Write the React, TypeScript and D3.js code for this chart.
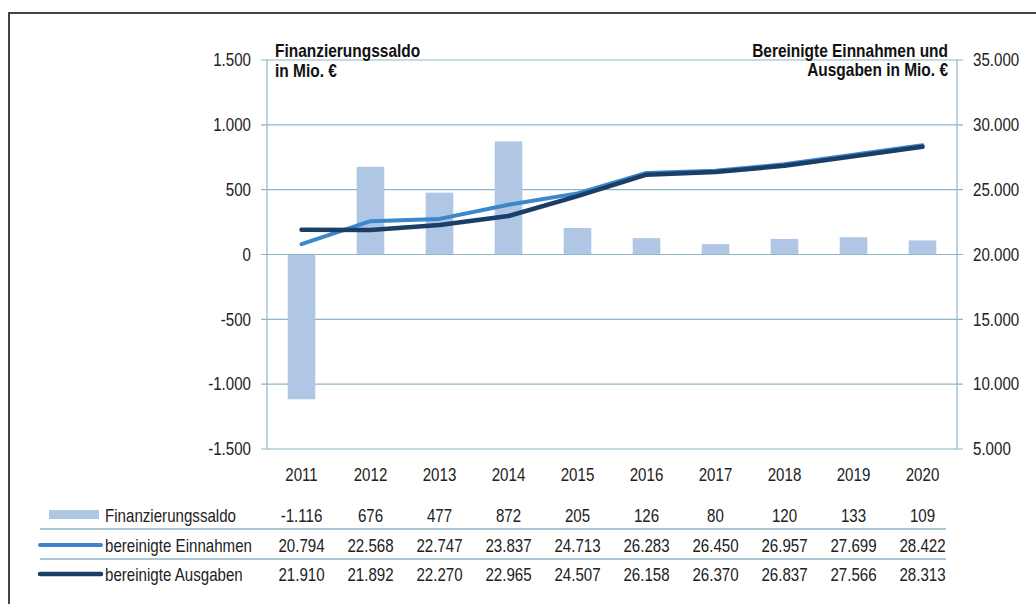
import React from 'react';
import * as d3 from 'd3';

const years = ['2011', '2012', '2013', '2014', '2015', '2016', '2017', '2018', '2019', '2020'];
const saldo = [-1116, 676, 477, 872, 205, 126, 80, 120, 133, 109];
const einnahmen = [20794, 22568, 22747, 23837, 24713, 26283, 26450, 26957, 27699, 28422];
const ausgaben = [21910, 21892, 22270, 22965, 24507, 26158, 26370, 26837, 27566, 28313];
const leftTicks = [-1500, -1000, -500, 0, 500, 1000, 1500];
const rightTicks = [5000, 10000, 15000, 20000, 25000, 30000, 35000];
const seriesNames = ['Finanzierungssaldo', 'bereinigte Einnahmen', 'bereinigte Ausgaben'];
const leftTitle = ['Finanzierungssaldo', 'in Mio. €'];
const rightTitle = ['Bereinigte Einnahmen und', 'Ausgaben in Mio. €'];

const FONT = "'Liberation Sans', Arial, sans-serif";
const TEXT = '#222';
const GRID = '#8fb4c8';
const BAR = '#afc7e4';
const C_EIN = '#3c87cb';
const C_AUS = '#1a3e66';

const de = d3.formatLocale({ decimal: ',', thousands: '.', grouping: [3], currency: ['', '€'], minus: '-' } as any);
const fmt = de.format(',d');

type TProps = { x: number; y: number; anchor?: string; bold?: boolean; dy?: string; fill?: string; size?: number; children: React.ReactNode };
function NText({ x, y, anchor = 'start', bold = false, dy, fill = TEXT, size = 18, children }: TProps) {
  const sx = bold ? 0.86 : 0.84;
  return (
    <text
      transform={`translate(${x},${y}) scale(${sx},1)`}
      textAnchor={anchor}
      dy={dy}
      fontSize={size}
      fontWeight={bold ? 'bold' : 'normal'}
      fill={fill}
    >
      {children}
    </text>
  );
}

export default function App() {
  const left = 267, right = 957, top = 60, bottom = 449;
  const x = d3.scaleBand<string>().domain(years).range([left, right]).paddingInner(0.6).paddingOuter(0.3);
  const yL = d3.scaleLinear().domain([-1500, 1500]).range([bottom, top]);
  const yR = d3.scaleLinear().domain([5000, 35000]).range([bottom, top]);
  const cx = (i: number) => (x(years[i]) as number) + x.bandwidth() / 2;
  const line = d3.line<number>().x((_, i) => cx(i)).y((d) => yR(d));

  const rowY = [522, 552, 581];
  const sepY = [529, 559];
  const rows = [saldo, einnahmen, ausgaben];

  return (
    <svg width={1036} height={604} style={{ position: 'absolute', left: 0, top: 0, background: '#fff' }} fontFamily={FONT}>
      {/* frame */}
      <line x1={8} x2={1036} y1={13} y2={13} stroke="#444" strokeWidth={2} />
      <line x1={9} x2={9} y1={12} y2={604} stroke="#444" strokeWidth={2} />

      {/* gridlines */}
      {leftTicks.map((t) => (
        <line key={t} x1={left - 6} x2={right + 6} y1={yL(t)} y2={yL(t)} stroke={GRID} strokeWidth={1.2} />
      ))}

      {/* bars */}
      {saldo.map((v, i) => (
        <rect key={i} x={x(years[i])} width={x.bandwidth()} y={Math.min(yL(v), yL(0))} height={Math.abs(yL(v) - yL(0))} fill={BAR} />
      ))}

      {/* axis lines */}
      <line x1={left} x2={left} y1={top} y2={bottom} stroke={GRID} strokeWidth={1.2} />
      <line x1={right} x2={right} y1={top} y2={bottom} stroke={GRID} strokeWidth={1.2} />
      <line x1={left - 6} x2={right + 6} y1={yL(0)} y2={yL(0)} stroke={GRID} strokeWidth={1.2} />

      {/* lines */}
      <path d={line(einnahmen) || ''} fill="none" stroke={C_EIN} strokeWidth={4} strokeLinecap="round" strokeLinejoin="round" />
      <path d={line(ausgaben) || ''} fill="none" stroke={C_AUS} strokeWidth={4.5} strokeLinecap="round" strokeLinejoin="round" />

      {/* left ticks */}
      {leftTicks.map((t) => (
        <NText key={t} x={251} y={yL(t)} dy="0.35em" anchor="end">{fmt(t)}</NText>
      ))}
      {/* right ticks */}
      {rightTicks.map((t) => (
        <NText key={t} x={973} y={yR(t)} dy="0.35em">{fmt(t)}</NText>
      ))}

      {/* axis titles */}
      {leftTitle.map((s, i) => (
        <NText key={s} x={275} y={57 + i * 19.5} bold fill="#111">{s}</NText>
      ))}
      {rightTitle.map((s, i) => (
        <NText key={s} x={948} y={57 + i * 18.5} anchor="end" bold fill="#111">{s}</NText>
      ))}

      {/* categories */}
      {years.map((yr, i) => (
        <NText key={yr} x={cx(i)} y={481} anchor="middle">{yr}</NText>
      ))}

      {/* data table */}
      {sepY.map((y) => (
        <line key={y} x1={40} x2={946} y1={y} y2={y} stroke={GRID} strokeWidth={1.5} />
      ))}
      <rect x={49} y={510} width={50} height={9} fill={BAR} />
      <line x1={40} x2={101} y1={545} y2={545} stroke={C_EIN} strokeWidth={4} strokeLinecap="round" />
      <line x1={40} x2={101} y1={574} y2={574} stroke={C_AUS} strokeWidth={4.5} strokeLinecap="round" />
      {seriesNames.map((s, r) => (
        <NText key={s} x={105} y={rowY[r]}>{s}</NText>
      ))}
      {rows.map((vals, r) =>
        vals.map((v, i) => (
          <NText key={r + '-' + i} x={cx(i)} y={rowY[r]} anchor="middle">{fmt(v)}</NText>
        ))
      )}
    </svg>
  );
}
